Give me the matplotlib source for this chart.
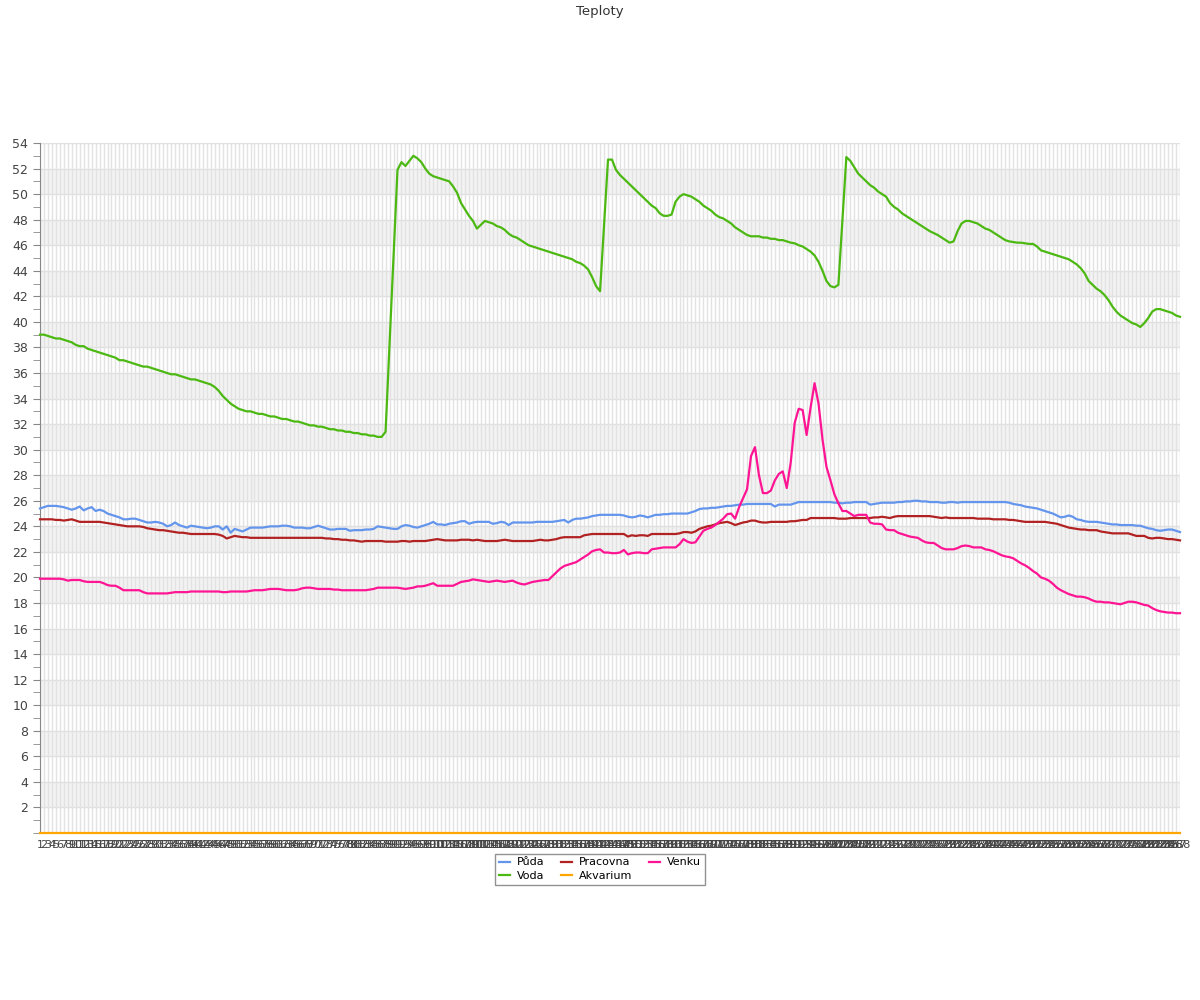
import matplotlib
matplotlib.use("Agg")
import matplotlib.pyplot as plt
from matplotlib.ticker import MultipleLocator

# one reading every 5 minutes, 288 of them
labels = [str(i) for i in range(1, 289)]

puda = [
    25.4, 25.5, 25.6, 25.6, 25.6, 25.55, 25.5, 25.4, 25.3, 25.4,
    25.55, 25.25, 25.4, 25.5, 25.2, 25.3, 25.2, 25.0, 24.9, 24.8,
    24.7, 24.55, 24.55, 24.6, 24.6, 24.5, 24.4, 24.3, 24.3, 24.35,
    24.3, 24.2, 24.0, 24.1, 24.3, 24.1, 24.0, 23.9, 24.05, 24.0,
    23.95, 23.9, 23.85, 23.9, 24.0, 24.0, 23.75, 24.0, 23.5, 23.8,
    23.7, 23.6, 23.75, 23.9, 23.9, 23.9, 23.9, 23.95, 24.0, 24.0,
    24.0, 24.05, 24.05, 24.0, 23.9, 23.9, 23.9, 23.85, 23.85, 23.95,
    24.05, 23.95, 23.85, 23.75, 23.75, 23.8, 23.8, 23.8, 23.65, 23.7,
    23.7, 23.7, 23.75, 23.75, 23.8, 24.0, 23.95, 23.9, 23.85, 23.8,
    23.8, 24.0, 24.1, 24.05, 23.95, 23.9, 24.0, 24.1, 24.2, 24.35,
    24.15, 24.15, 24.1, 24.2, 24.25, 24.3, 24.4, 24.4, 24.2, 24.3,
    24.35, 24.35, 24.35, 24.35, 24.2, 24.25, 24.35, 24.3, 24.1, 24.3,
    24.3, 24.3, 24.3, 24.3, 24.3, 24.35, 24.35, 24.35, 24.35, 24.35,
    24.4, 24.45, 24.5, 24.3, 24.5, 24.6, 24.6, 24.65, 24.7, 24.8,
    24.85, 24.9, 24.9, 24.9, 24.9, 24.9, 24.9, 24.85, 24.75, 24.7,
    24.75, 24.85, 24.8, 24.7, 24.8, 24.9, 24.9, 24.95, 24.95, 25.0,
    25.0, 25.0, 25.0, 25.0, 25.1, 25.2, 25.35, 25.4, 25.4, 25.45,
    25.45, 25.5, 25.55, 25.6, 25.6, 25.65, 25.7, 25.7, 25.75, 25.75,
    25.75, 25.75, 25.75, 25.75, 25.75, 25.55, 25.7, 25.7, 25.7, 25.7,
    25.8, 25.9, 25.9, 25.9, 25.9, 25.9, 25.9, 25.9, 25.9, 25.9,
    25.85, 25.85, 25.8, 25.85, 25.85, 25.9, 25.9, 25.9, 25.9, 25.7,
    25.75, 25.8, 25.85, 25.85, 25.85, 25.85, 25.9, 25.9, 25.95, 25.95,
    26.0, 26.0, 25.95, 25.95, 25.9, 25.9, 25.9, 25.85, 25.85, 25.9,
    25.9, 25.85, 25.9, 25.9, 25.9, 25.9, 25.9, 25.9, 25.9, 25.9,
    25.9, 25.9, 25.9, 25.9, 25.85, 25.75, 25.7, 25.65, 25.55, 25.5,
    25.45, 25.4, 25.3, 25.2, 25.1, 25.0, 24.85, 24.7, 24.75, 24.85,
    24.75, 24.55, 24.5, 24.4, 24.35, 24.35, 24.35, 24.3, 24.25, 24.2,
    24.15, 24.15, 24.1, 24.1, 24.1, 24.1, 24.05, 24.05, 23.95, 23.85,
    23.8, 23.7, 23.65, 23.7, 23.75, 23.75, 23.65, 23.55,
]

voda = [
    39.0, 39.0, 38.9, 38.8, 38.7, 38.7, 38.6, 38.5, 38.4, 38.2,
    38.1, 38.1, 37.9, 37.8, 37.7, 37.6, 37.5, 37.4, 37.3, 37.2,
    37.0, 37.0, 36.9, 36.8, 36.7, 36.6, 36.5, 36.5, 36.4, 36.3,
    36.2, 36.1, 36.0, 35.9, 35.9, 35.8, 35.7, 35.6, 35.5, 35.5,
    35.4, 35.3, 35.2, 35.1, 34.9, 34.6, 34.2, 33.9, 33.6, 33.4,
    33.2, 33.1, 33.0, 33.0, 32.9, 32.8, 32.8, 32.7, 32.6, 32.6,
    32.5, 32.4, 32.4, 32.3, 32.2, 32.2, 32.1, 32.0, 31.9, 31.9,
    31.8, 31.8, 31.7, 31.6, 31.6, 31.5, 31.5, 31.4, 31.4, 31.3,
    31.3, 31.2, 31.2, 31.1, 31.1, 31.0, 31.0, 31.4, 38.3, 45.1,
    51.9, 52.5, 52.2, 52.6, 53.0, 52.8, 52.5, 52.0, 51.6, 51.4,
    51.3, 51.2, 51.1, 51.0, 50.6, 50.1, 49.3, 48.8, 48.3, 47.9,
    47.3, 47.6, 47.9, 47.8, 47.7, 47.5, 47.4, 47.2, 46.9, 46.7,
    46.6, 46.4, 46.2, 46.0, 45.9, 45.8, 45.7, 45.6, 45.5, 45.4,
    45.3, 45.2, 45.1, 45.0, 44.9, 44.7, 44.6, 44.4, 44.1, 43.5,
    42.8, 42.4, 47.6, 52.7, 52.7, 51.9, 51.5, 51.2, 50.9, 50.6,
    50.3, 50.0, 49.7, 49.4, 49.1, 48.9, 48.5, 48.3, 48.3, 48.4,
    49.4, 49.8, 50.0, 49.9, 49.8, 49.6, 49.4, 49.1, 48.9, 48.7,
    48.4, 48.2, 48.1, 47.9, 47.7, 47.4, 47.2, 47.0, 46.8, 46.7,
    46.7, 46.7, 46.6, 46.6, 46.5, 46.5, 46.4, 46.4, 46.3, 46.2,
    46.15, 46.0, 45.9, 45.7, 45.5, 45.2, 44.7, 44.0, 43.2, 42.8,
    42.7, 42.9, 47.9, 52.9, 52.6, 52.1, 51.6, 51.3, 51.0, 50.7,
    50.5, 50.2, 50.0, 49.8, 49.3, 49.0, 48.8, 48.5, 48.3, 48.1,
    47.9, 47.7, 47.5, 47.3, 47.1, 46.95, 46.8, 46.6, 46.4, 46.2,
    46.3, 47.1, 47.7, 47.9, 47.9, 47.8, 47.7, 47.5, 47.3, 47.2,
    47.0, 46.8, 46.6, 46.4, 46.3, 46.25, 46.2, 46.2, 46.15, 46.1,
    46.1, 45.9, 45.6, 45.5, 45.4, 45.3, 45.2, 45.1, 45.0, 44.9,
    44.7, 44.5, 44.2, 43.8, 43.2, 42.9, 42.6, 42.4, 42.1, 41.7,
    41.2, 40.8, 40.5, 40.3, 40.1, 39.9, 39.8, 39.6, 39.9, 40.3,
    40.8, 41.0, 41.0, 40.9, 40.8, 40.7, 40.5, 40.4,
]

pracovna = [
    24.55, 24.55, 24.55, 24.55, 24.5, 24.5, 24.45, 24.5, 24.55, 24.45,
    24.35, 24.35, 24.35, 24.35, 24.35, 24.35, 24.3, 24.25, 24.2, 24.15,
    24.1, 24.05, 24.0, 24.0, 24.0, 24.0, 23.95, 23.85, 23.8, 23.75,
    23.7, 23.7, 23.65, 23.6, 23.55, 23.5, 23.5, 23.45, 23.4, 23.4,
    23.4, 23.4, 23.4, 23.4, 23.4, 23.35, 23.25, 23.05, 23.15, 23.25,
    23.2, 23.15, 23.15, 23.1, 23.1, 23.1, 23.1, 23.1, 23.1, 23.1,
    23.1, 23.1, 23.1, 23.1, 23.1, 23.1, 23.1, 23.1, 23.1, 23.1,
    23.1, 23.1, 23.05, 23.05, 23.0, 23.0, 22.95, 22.95, 22.9, 22.9,
    22.85, 22.8, 22.85, 22.85, 22.85, 22.85, 22.85, 22.8, 22.8, 22.8,
    22.8, 22.85, 22.85, 22.8, 22.85, 22.85, 22.85, 22.85, 22.9, 22.95,
    23.0, 22.95, 22.9, 22.9, 22.9, 22.9, 22.95, 22.95, 22.95, 22.9,
    22.95, 22.9, 22.85, 22.85, 22.85, 22.85, 22.9, 22.95, 22.9, 22.85,
    22.85, 22.85, 22.85, 22.85, 22.85, 22.9, 22.95, 22.9, 22.9, 22.95,
    23.0, 23.1, 23.15, 23.15, 23.15, 23.15, 23.15, 23.3, 23.35, 23.4,
    23.4, 23.4, 23.4, 23.4, 23.4, 23.4, 23.4, 23.4, 23.2, 23.3,
    23.25, 23.3, 23.3, 23.25, 23.4, 23.4, 23.4, 23.4, 23.4, 23.4,
    23.4, 23.45, 23.55, 23.55, 23.5, 23.6, 23.8, 23.9, 24.0, 24.05,
    24.15, 24.25, 24.3, 24.35, 24.25, 24.1, 24.2, 24.3, 24.35, 24.45,
    24.45, 24.35, 24.3, 24.3, 24.35, 24.35, 24.35, 24.35, 24.35, 24.4,
    24.4, 24.45, 24.5, 24.5, 24.65, 24.65, 24.65, 24.65, 24.65, 24.65,
    24.65, 24.6, 24.6, 24.6, 24.65, 24.65, 24.65, 24.65, 24.65, 24.65,
    24.7, 24.7, 24.75, 24.7, 24.65, 24.75, 24.8, 24.8, 24.8, 24.8,
    24.8, 24.8, 24.8, 24.8, 24.8, 24.75, 24.7, 24.65, 24.7, 24.65,
    24.65, 24.65, 24.65, 24.65, 24.65, 24.65, 24.6, 24.6, 24.6, 24.6,
    24.55, 24.55, 24.55, 24.55, 24.5, 24.5, 24.45, 24.4, 24.35, 24.35,
    24.35, 24.35, 24.35, 24.35, 24.3, 24.25, 24.2, 24.1, 24.0, 23.9,
    23.85, 23.8, 23.75, 23.75, 23.7, 23.7, 23.7, 23.6, 23.55, 23.5,
    23.45, 23.45, 23.45, 23.45, 23.45, 23.35, 23.25, 23.25, 23.25, 23.1,
    23.05, 23.1, 23.1, 23.05, 23.0, 23.0, 22.95, 22.9,
]

akvarium = [
    0, 0, 0, 0, 0, 0, 0, 0, 0, 0, 0, 0, 0, 0, 0, 0, 0, 0, 0, 0, 0, 0, 0, 0,
    0, 0, 0, 0, 0, 0, 0, 0, 0, 0, 0, 0, 0, 0, 0, 0, 0, 0, 0, 0, 0, 0, 0, 0,
    0, 0, 0, 0, 0, 0, 0, 0, 0, 0, 0, 0, 0, 0, 0, 0, 0, 0, 0, 0, 0, 0, 0, 0,
    0, 0, 0, 0, 0, 0, 0, 0, 0, 0, 0, 0, 0, 0, 0, 0, 0, 0, 0, 0, 0, 0, 0, 0,
    0, 0, 0, 0, 0, 0, 0, 0, 0, 0, 0, 0, 0, 0, 0, 0, 0, 0, 0, 0, 0, 0, 0, 0,
    0, 0, 0, 0, 0, 0, 0, 0, 0, 0, 0, 0, 0, 0, 0, 0, 0, 0, 0, 0, 0, 0, 0, 0,
    0, 0, 0, 0, 0, 0, 0, 0, 0, 0, 0, 0, 0, 0, 0, 0, 0, 0, 0, 0, 0, 0, 0, 0,
    0, 0, 0, 0, 0, 0, 0, 0, 0, 0, 0, 0, 0, 0, 0, 0, 0, 0, 0, 0, 0, 0, 0, 0,
    0, 0, 0, 0, 0, 0, 0, 0, 0, 0, 0, 0, 0, 0, 0, 0, 0, 0, 0, 0, 0, 0, 0, 0,
    0, 0, 0, 0, 0, 0, 0, 0, 0, 0, 0, 0, 0, 0, 0, 0, 0, 0, 0, 0, 0, 0, 0, 0,
    0, 0, 0, 0, 0, 0, 0, 0, 0, 0, 0, 0, 0, 0, 0, 0, 0, 0, 0, 0, 0, 0, 0, 0,
    0, 0, 0, 0, 0, 0, 0, 0, 0, 0, 0, 0, 0, 0, 0, 0, 0, 0, 0, 0, 0, 0, 0, 0,
]

venku = [
    19.9, 19.9, 19.9, 19.9, 19.9, 19.9, 19.85, 19.75, 19.8, 19.8,
    19.8, 19.7, 19.65, 19.65, 19.65, 19.65, 19.55, 19.4, 19.35, 19.35,
    19.2, 19.0, 19.0, 19.0, 19.0, 19.0, 18.85, 18.75, 18.75, 18.75,
    18.75, 18.75, 18.75, 18.8, 18.85, 18.85, 18.85, 18.85, 18.9, 18.9,
    18.9, 18.9, 18.9, 18.9, 18.9, 18.9, 18.85, 18.85, 18.9, 18.9,
    18.9, 18.9, 18.9, 18.95, 19.0, 19.0, 19.0, 19.05, 19.1, 19.1,
    19.1, 19.05, 19.0, 19.0, 19.0, 19.05, 19.15, 19.2, 19.2, 19.15,
    19.1, 19.1, 19.1, 19.1, 19.05, 19.05, 19.0, 19.0, 19.0, 19.0,
    19.0, 19.0, 19.0, 19.05, 19.1, 19.2, 19.2, 19.2, 19.2, 19.2,
    19.2, 19.15, 19.1, 19.15, 19.2, 19.3, 19.3, 19.35, 19.45, 19.55,
    19.35, 19.35, 19.35, 19.35, 19.35, 19.5, 19.65, 19.7, 19.75, 19.85,
    19.8, 19.75, 19.7, 19.65, 19.7, 19.75, 19.7, 19.65, 19.7, 19.75,
    19.6, 19.5, 19.45, 19.55, 19.65, 19.7, 19.75, 19.8, 19.8, 20.1,
    20.4, 20.7, 20.9, 21.0, 21.1, 21.2, 21.4, 21.6, 21.8, 22.05,
    22.15, 22.2, 21.95, 21.95, 21.9, 21.9, 21.95, 22.15, 21.8, 21.9,
    21.95, 21.95, 21.9, 21.9, 22.2, 22.25, 22.3, 22.35, 22.35, 22.35,
    22.35, 22.6, 23.0, 22.8, 22.7, 22.75, 23.2, 23.65, 23.8, 23.9,
    24.1, 24.35, 24.6, 24.95, 25.0, 24.6, 25.5, 26.2, 26.9, 29.5,
    30.2, 28.0, 26.6, 26.6, 26.8, 27.6, 28.1, 28.3, 27.0, 29.0,
    32.1, 33.2, 33.1, 31.15, 33.3, 35.2, 33.6, 30.8, 28.65, 27.6,
    26.5, 25.8, 25.2, 25.2, 25.0, 24.8, 24.9, 24.9, 24.9, 24.3,
    24.2, 24.2, 24.15, 23.75, 23.7, 23.7, 23.5, 23.4, 23.3, 23.2,
    23.15, 23.1, 22.9, 22.75, 22.7, 22.7, 22.5, 22.3, 22.2, 22.2,
    22.2, 22.3, 22.45, 22.5, 22.45, 22.35, 22.35, 22.35, 22.2, 22.15,
    22.05, 21.9, 21.75, 21.65, 21.6, 21.5, 21.3, 21.1, 20.95, 20.75,
    20.5, 20.3, 20.0, 19.9, 19.75, 19.5, 19.2, 19.0, 18.85, 18.7,
    18.6, 18.5, 18.5, 18.45, 18.35, 18.2, 18.1, 18.1, 18.05, 18.05,
    18.0, 17.95, 17.9, 18.0, 18.1, 18.1, 18.05, 17.95, 17.85, 17.8,
    17.6, 17.45, 17.35, 17.3, 17.25, 17.25, 17.2, 17.2,
]

series = [
    ("Půda", puda, "#6495ED"),
    ("Voda", voda, "#4CB812"),
    ("Pracovna", pracovna, "#B22222"),
    ("Akvarium", akvarium, "#FFA500"),
    ("Venku", venku, "#FF1493"),
]


def main():
    plt.rcParams["font.family"] = ["DejaVu Sans"]
    fig = plt.figure(figsize=(12, 10), dpi=100)
    ax = fig.add_axes([40 / 1200, 1 - 833 / 1000, 1140 / 1200, 690 / 1000])

    x = list(range(len(labels)))

    # alternating bands
    for lo in range(2, 54, 4):
        ax.axhspan(lo, lo + 2, color="#f3f3f3", zorder=0, lw=0)
    for v in range(2, 55, 2):
        ax.axhline(v, color="#e0e0e0", lw=1, zorder=0.5)
    for xi in x:
        ax.axvline(xi, color="#e2e2e2", lw=1, zorder=0.5)

    for name, vals, col in series:
        ax.plot(x, vals, color=col, lw=1.6, label=name, zorder=3,
                clip_on=False)

    ax.set_xlim(0, len(labels) - 1)
    ax.set_ylim(0, 54)

    ax.set_xticks(x)
    ax.set_xticklabels(labels, fontsize=8, color="#444444")
    ax.tick_params(axis="x", length=0, pad=5)

    ax.set_yticks(range(2, 55, 2))
    ax.yaxis.set_minor_locator(MultipleLocator(1))
    ax.tick_params(axis="y", which="major", length=5, labelsize=9,
                   labelcolor="#444444", color="#888888")
    ax.tick_params(axis="y", which="minor", length=5, color="#888888")

    for s in ["top", "right", "bottom"]:
        ax.spines[s].set_visible(False)
    ax.spines["left"].set_color("#888888")

    fig.text(0.5, 0.995, "Teploty", ha="center", va="top", fontsize=9.5,
             color="#333333")

    leg = fig.legend(loc="upper center", bbox_to_anchor=(0.5, 0.152), ncol=3,
                     fontsize=8, frameon=True, fancybox=False,
                     handlelength=1.0, columnspacing=1.5, borderpad=0.35,
                     labelspacing=0.3, handletextpad=0.6)
    leg.get_frame().set_edgecolor("#777777")
    leg.get_frame().set_linewidth(1)

    fig.savefig("out.png", dpi=100)
    plt.close(fig)


if __name__ == "__main__":
    main()
